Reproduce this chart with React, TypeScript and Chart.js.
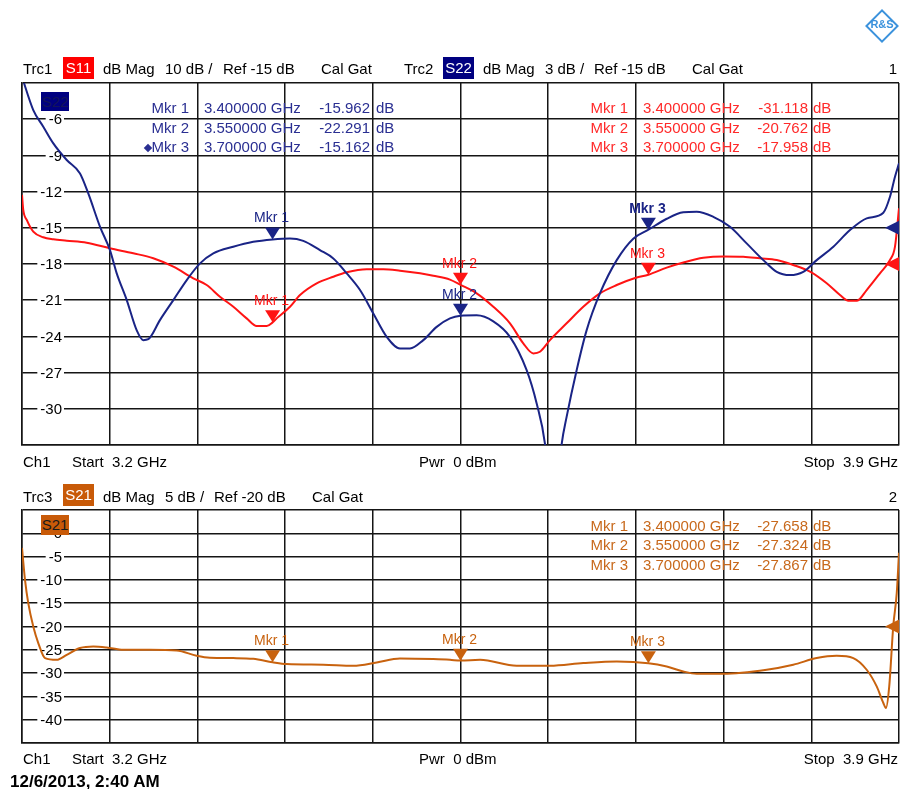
import React, { useEffect, useRef } from "react";
import { Chart, registerables } from "chart.js";
Chart.register(...registerables);

const FONT = '"Liberation Sans", Arial, sans-serif';
const BLUE = "#1a2486";
const RED = "#ff1414";
const ORANGE = "#c8620e";
const BLUE_TXT = "#2a2f92";
const RED_TXT = "#ff2a2a";
const ORANGE_TXT = "#c8691c";

// grid / tick values
const gridFreqsGHz = [3.2, 3.27, 3.34, 3.41, 3.48, 3.55, 3.62, 3.69, 3.76, 3.83, 3.9];
const s22Ticks = [-3, -6, -9, -12, -15, -18, -21, -24, -27, -30, -33];
const s21Ticks = [5, 0, -5, -10, -15, -20, -25, -30, -35, -40, -45];
const s11Min = -65;
const s11Max = 35;
const s22Ref = -15;
const s11Ref = -15;
const s21Ref = -20;

// Trc2 S22 (dB, 3 dB/div)
const s22Freq = [3.2, 3.209, 3.217, 3.225, 3.2357, 3.2463, 3.2529, 3.2623, 3.2702, 3.2756, 3.2836, 3.2915, 3.2968, 3.3008, 3.3101, 3.3208, 3.3315, 3.3421, 3.3527, 3.3686, 3.3846, 3.4, 3.4139, 3.4245, 3.4378, 3.4485, 3.4592, 3.4698, 3.4804, 3.4911, 3.5017, 3.5097, 3.5203, 3.531, 3.5416, 3.55, 3.5629, 3.5762, 3.5895, 3.6028, 3.6108, 3.6174, 3.6238, 3.6308, 3.6347, 3.6427, 3.6507, 3.6613, 3.6747, 3.6879, 3.7, 3.7146, 3.7278, 3.7385, 3.7518, 3.7651, 3.7784, 3.7917, 3.8024, 3.813, 3.8236, 3.8343, 3.8476, 3.8609, 3.8742, 3.8875, 3.8928, 3.8968, 3.9];
const s22Db = [-2.5, -5.24, -6.62, -8.0, -9.38, -10.49, -12.15, -14.92, -16.85, -18.78, -20.99, -23.48, -24.31, -24.23, -22.65, -20.99, -19.33, -17.95, -17.12, -16.57, -16.16, -15.96, -15.88, -16.08, -16.85, -17.54, -18.78, -20.16, -22.1, -24.04, -25.0, -25.0, -24.31, -23.21, -22.51, -22.29, -22.25, -22.75, -24.04, -26.8, -29.56, -32.88, -40, -32.88, -30.67, -26.8, -23.48, -20.44, -17.68, -15.9, -15.16, -14.25, -13.72, -13.67, -14.09, -14.92, -16.29, -17.68, -18.65, -18.92, -18.65, -17.68, -16.57, -15.19, -14.22, -13.75, -12.43, -10.77, -9.66];

// Trc1 S11 (dB, 10 dB/div)
const s11Freq = [3.2, 3.201, 3.2038, 3.209, 3.217, 3.225, 3.2357, 3.2516, 3.2702, 3.2888, 3.3048, 3.3208, 3.3367, 3.3474, 3.358, 3.3687, 3.3793, 3.3873, 3.3953, 3.4, 3.4033, 3.4139, 3.4219, 3.4352, 3.4485, 3.4592, 3.4751, 3.4884, 3.5017, 3.5177, 3.5283, 3.5416, 3.55, 3.5629, 3.5762, 3.5895, 3.6001, 3.6081, 3.6134, 3.6214, 3.6347, 3.648, 3.6613, 3.6747, 3.69, 3.7, 3.7146, 3.7279, 3.7438, 3.7598, 3.7757, 3.789, 3.8024, 3.8156, 3.829, 3.8423, 3.8529, 3.8596, 3.8662, 3.8742, 3.8848, 3.8928, 3.8968, 3.9];
const s11Db = [4.08, -0.07, -2.83, -6.07, -7.62, -8.17, -8.56, -9.11, -10.66, -12.04, -13.42, -15.75, -18.95, -20.81, -24.04, -26.81, -30.02, -32.14, -32.14, -31.12, -30.02, -26.81, -23.57, -20.34, -18.51, -17.29, -16.47, -16.47, -16.85, -17.57, -18.23, -19.31, -20.76, -23.1, -26.81, -31.39, -36.92, -39.69, -39.25, -36.01, -31.39, -26.81, -23.1, -20.81, -18.8, -17.96, -16.0, -14.6, -13.3, -12.9, -12.98, -13.42, -13.89, -15.28, -17.13, -20.34, -23.57, -25.15, -25.15, -22.19, -17.57, -13.89, -10.22, 0.4];

// Trc3 S21 (dB, 5 dB/div)
const s21Freq = [3.2, 3.2024, 3.205, 3.209, 3.213, 3.2184, 3.2277, 3.2357, 3.2463, 3.2569, 3.2676, 3.2809, 3.3022, 3.3235, 3.3394, 3.35, 3.3686, 3.3846, 3.4, 3.4113, 3.4405, 3.4644, 3.4831, 3.5017, 3.5283, 3.5416, 3.55, 3.5656, 3.5948, 3.6214, 3.648, 3.6747, 3.7, 3.7146, 3.7278, 3.7385, 3.7598, 3.7944, 3.8156, 3.8343, 3.8502, 3.8635, 3.8742, 3.8822, 3.8875, 3.8896, 3.8922, 3.8954, 3.8982, 3.9];
const s21Db = [-3.14, -10.0, -15.0, -20.0, -23.56, -26.78, -27.14, -26.07, -24.63, -24.29, -24.5, -25.0, -25.0, -25.15, -26.28, -26.71, -26.78, -26.93, -27.66, -28.06, -28.21, -28.43, -27.72, -26.86, -26.99, -27.14, -27.32, -27.14, -28.43, -28.43, -27.85, -27.5, -27.87, -28.58, -29.65, -30.14, -30.14, -29.28, -28.21, -26.78, -26.28, -26.78, -29.28, -32.86, -36.42, -37.49, -32.86, -20.0, -12.85, -4.2];

// markers
const markerNames = ["Mkr 1", "Mkr 2", "Mkr 3"];
const markerFreqsGHz = [3.4, 3.55, 3.7];
const s22Markers = [-15.962, -22.291, -15.162];
const s11Markers = [-31.118, -20.762, -17.958];
const s21Markers = [-27.658, -27.324, -27.867];

type MarkerTrace = { axis: string; color: string; values: number[]; bold?: number };
type RefTri = { axis: string; color: string; value: number };

function toXY(fs: number[], vs: number[]) {
  return fs.map((f, i) => ({ x: f, y: vs[i] }));
}

function makeOverlay(tickAxis: string, traces: MarkerTrace[], refs: RefTri[]) {
  return {
    id: "overlay",
    beforeDatasetsDraw(chart: any) {
      const ctx = chart.ctx as CanvasRenderingContext2D;
      const ys = chart.scales[tickAxis];
      const left = chart.chartArea.left;
      ctx.save();
      ctx.font = `15px ${FONT}`;
      ctx.textAlign = "right";
      ctx.textBaseline = "middle";
      ys.ticks.forEach((t: any) => {
        if (t.value === ys.min || t.value === ys.max) return;
        const y = ys.getPixelForValue(t.value);
        const label = String(t.value);
        const w = ctx.measureText(label).width;
        const xr = left + 40;
        ctx.fillStyle = "#fff";
        ctx.fillRect(xr - w - 3, y - 6, w + 5, 12);
        ctx.fillStyle = "#000";
        ctx.fillText(label, xr, y + 1);
      });
      ctx.restore();
    },
    afterDatasetsDraw(chart: any) {
      const ctx = chart.ctx as CanvasRenderingContext2D;
      const xs = chart.scales.x;
      ctx.save();
      traces.forEach((tr) => {
        const ysc = chart.scales[tr.axis];
        markerFreqsGHz.forEach((f, i) => {
          const x = xs.getPixelForValue(f);
          const y = ysc.getPixelForValue(tr.values[i]);
          ctx.fillStyle = tr.color;
          ctx.beginPath();
          ctx.moveTo(x - 7.5, y - 12);
          ctx.lineTo(x + 7.5, y - 12);
          ctx.lineTo(x, y);
          ctx.closePath();
          ctx.fill();
          ctx.font = `${tr.bold === i ? "bold " : ""}14px ${FONT}`;
          ctx.textAlign = "center";
          ctx.textBaseline = "alphabetic";
          ctx.fillText(markerNames[i], x - 1, y - 17);
        });
      });
      const right = chart.chartArea.right;
      refs.forEach((r) => {
        const y = chart.scales[r.axis].getPixelForValue(r.value);
        ctx.fillStyle = r.color;
        ctx.beginPath();
        ctx.moveTo(right - 14, y);
        ctx.lineTo(right, y - 7);
        ctx.lineTo(right, y + 7);
        ctx.closePath();
        ctx.fill();
      });
      ctx.restore();
    },
  };
}

function gridScaleX() {
  return {
    type: "linear",
    min: 3.2,
    max: 3.9,
    afterBuildTicks: (s: any) => {
      s.ticks = gridFreqsGHz.map((v) => ({ value: v }));
    },
    ticks: { display: false },
    grid: { color: "#151515", lineWidth: 1.5, drawTicks: false },
    border: { color: "#151515", width: 1.5 },
  };
}

function gridScaleY(ticks: number[]) {
  return {
    type: "linear",
    min: Math.min(...ticks),
    max: Math.max(...ticks),
    afterBuildTicks: (s: any) => {
      s.ticks = ticks.map((v) => ({ value: v }));
    },
    ticks: { display: false },
    grid: { color: "#151515", lineWidth: 1.5, drawTicks: false },
    border: { color: "#151515", width: 1.5 },
  };
}

function T(props: { x: number; y: number; s?: number; c?: string; b?: boolean; a?: "l" | "r" | "c"; children: React.ReactNode }) {
  const s = props.s ?? 15;
  const tr = props.a === "r" ? "translateX(-100%)" : props.a === "c" ? "translateX(-50%)" : undefined;
  return (
    <div
      style={{
        position: "absolute",
        left: props.x,
        top: props.y - 0.8465 * s,
        fontSize: s,
        lineHeight: `${s}px`,
        fontFamily: FONT,
        fontWeight: props.b ? "bold" : "normal",
        color: props.c ?? "#000",
        whiteSpace: "pre",
        transform: tr,
      }}
    >
      {props.children}
    </div>
  );
}

function Badge(props: { x: number; y: number; w: number; h: number; bg: string; c: string; s?: number; children: React.ReactNode }) {
  const s = props.s ?? 15;
  return (
    <div
      style={{
        position: "absolute",
        left: props.x,
        top: props.y,
        width: props.w,
        height: props.h,
        background: props.bg,
        color: props.c,
        fontFamily: FONT,
        fontSize: s,
        lineHeight: `${props.h}px`,
        textAlign: "center",
        whiteSpace: "pre",
      }}
    >
      {props.children}
    </div>
  );
}

function MarkerTable(props: { values: number[]; color: string; rows: number[]; xName: number; xFreq: number; xVal: number; xUnit: number }) {
  return (
    <>
      {markerNames.map((n, i) => (
        <React.Fragment key={n}>
          <T x={props.xName} y={props.rows[i]} c={props.color} a="r">{n}</T>
          <T x={props.xFreq} y={props.rows[i]} c={props.color}>{markerFreqsGHz[i].toFixed(6) + " GHz"}</T>
          <T x={props.xVal} y={props.rows[i]} c={props.color} a="r">{props.values[i].toFixed(3)}</T>
          <T x={props.xUnit} y={props.rows[i]} c={props.color}>dB</T>
        </React.Fragment>
      ))}
    </>
  );
}

export default function App() {
  const topRef = useRef<HTMLCanvasElement>(null);
  const botRef = useRef<HTMLCanvasElement>(null);

  useEffect(() => {
    document.body.style.margin = "0";
    document.body.style.background = "#fff";
    const top = new Chart(topRef.current as HTMLCanvasElement, {
      type: "line",
      data: {
        datasets: [
          { label: "S22", data: toXY(s22Freq, s22Db), yAxisID: "y", borderColor: BLUE, borderWidth: 2, pointRadius: 0, cubicInterpolationMode: "monotone", fill: false },
          { label: "S11", data: toXY(s11Freq, s11Db), yAxisID: "y11", borderColor: RED, borderWidth: 2, pointRadius: 0, cubicInterpolationMode: "monotone", fill: false },
        ],
      } as any,
      options: {
        responsive: false,
        maintainAspectRatio: false,
        animation: false,
        parsing: true,
        layout: { padding: { left: 22, right: 1, top: 83, bottom: 25 } },
        plugins: { legend: { display: false }, tooltip: { enabled: false } },
        events: [],
        scales: {
          x: gridScaleX(),
          y: gridScaleY(s22Ticks),
          y11: { type: "linear", display: false, min: s11Min, max: s11Max },
        } as any,
      },
      plugins: [
        makeOverlay(
          "y",
          [
            { axis: "y11", color: RED, values: s11Markers },
            { axis: "y", color: BLUE, values: s22Markers, bold: 2 },
          ],
          [
            { axis: "y", color: BLUE, value: s22Ref },
            { axis: "y11", color: RED, value: s11Ref },
          ]
        ) as any,
      ],
    });
    const bot = new Chart(botRef.current as HTMLCanvasElement, {
      type: "line",
      data: {
        datasets: [
          { label: "S21", data: toXY(s21Freq, s21Db), yAxisID: "y", borderColor: ORANGE, borderWidth: 2, pointRadius: 0, cubicInterpolationMode: "monotone", fill: false },
        ],
      } as any,
      options: {
        responsive: false,
        maintainAspectRatio: false,
        animation: false,
        layout: { padding: { left: 22, right: 1, top: 40, bottom: 46 } },
        plugins: { legend: { display: false }, tooltip: { enabled: false } },
        events: [],
        scales: {
          x: gridScaleX(),
          y: gridScaleY(s21Ticks),
        } as any,
      },
      plugins: [
        makeOverlay("y", [{ axis: "y", color: ORANGE, values: s21Markers }], [{ axis: "y", color: ORANGE, value: s21Ref }]) as any,
      ],
    });
    return () => {
      top.destroy();
      bot.destroy();
    };
  }, []);

  return (
    <div style={{ position: "relative", width: 900, height: 789, background: "#fff", overflow: "hidden" }}>
      <canvas ref={topRef} width={900} height={470} style={{ position: "absolute", left: 0, top: 0, width: 900, height: 470 }} />
      <canvas ref={botRef} width={900} height={319} style={{ position: "absolute", left: 0, top: 470, width: 900, height: 319 }} />

      {/* R&S logo */}
      <div style={{ position: "absolute", left: 870, top: 14, width: 20, height: 20, border: "2px solid #3b92dc", transform: "rotate(45deg)" }} />
      <div style={{ position: "absolute", left: 866, top: 18, width: 32, textAlign: "center", fontFamily: FONT, fontWeight: "bold", fontSize: 11, color: "#3b92dc" }}>R&amp;S</div>

      {/* top header */}
      <T x={23} y={74}>Trc1</T>
      <Badge x={63} y={57} w={31} h={22} bg="#ff0000" c="#fff">S11</Badge>
      <T x={103} y={74}>dB Mag</T>
      <T x={165} y={74}>10 dB /</T>
      <T x={223} y={74}>Ref -15 dB</T>
      <T x={321} y={74}>Cal Gat</T>
      <T x={404} y={74}>Trc2</T>
      <Badge x={443} y={57} w={31} h={22} bg="#000080" c="#fff">S22</Badge>
      <T x={483} y={74}>dB Mag</T>
      <T x={545} y={74}>3 dB /</T>
      <T x={594} y={74}>Ref -15 dB</T>
      <T x={692} y={74}>Cal Gat</T>
      <T x={897} y={74} a="r">1</T>

      <Badge x={41} y={92} w={28} h={19} bg="#000080" c="#14145a">S22</Badge>

      {/* S22 marker table */}
      <div style={{ position: "absolute", left: 145, top: 144.5, width: 6, height: 6, background: BLUE_TXT, transform: "rotate(45deg)" }} />
      <MarkerTable values={s22Markers} color={BLUE_TXT} rows={[113, 132.5, 152]} xName={189} xFreq={204} xVal={370} xUnit={376} />
      {/* S11 marker table */}
      <MarkerTable values={s11Markers} color={RED_TXT} rows={[113, 132.5, 152]} xName={628} xFreq={643} xVal={808} xUnit={813} />

      {/* top footer */}
      <T x={23} y={467}>Ch1</T>
      <T x={72} y={467}>Start  3.2 GHz</T>
      <T x={419} y={467}>Pwr  0 dBm</T>
      <T x={898} y={467} a="r">Stop  3.9 GHz</T>

      {/* bottom header */}
      <T x={23} y={501.5}>Trc3</T>
      <Badge x={63} y={484} w={31} h={22} bg="#c85a08" c="#fff">S21</Badge>
      <T x={103} y={501.5}>dB Mag</T>
      <T x={165} y={501.5}>5 dB /</T>
      <T x={214} y={501.5}>Ref -20 dB</T>
      <T x={312} y={501.5}>Cal Gat</T>
      <T x={897} y={501.5} a="r">2</T>

      <Badge x={41} y={515} w={28} h={20} bg="#c85a08" c="#1a1a1a">S21</Badge>

      <MarkerTable values={s21Markers} color={ORANGE_TXT} rows={[530.5, 550, 569.5]} xName={628} xFreq={643} xVal={808} xUnit={813} />

      {/* bottom footer */}
      <T x={23} y={764}>Ch1</T>
      <T x={72} y={764}>Start  3.2 GHz</T>
      <T x={419} y={764}>Pwr  0 dBm</T>
      <T x={898} y={764} a="r">Stop  3.9 GHz</T>

      <T x={10} y={787} s={17} b>12/6/2013, 2:40 AM</T>
    </div>
  );
}
